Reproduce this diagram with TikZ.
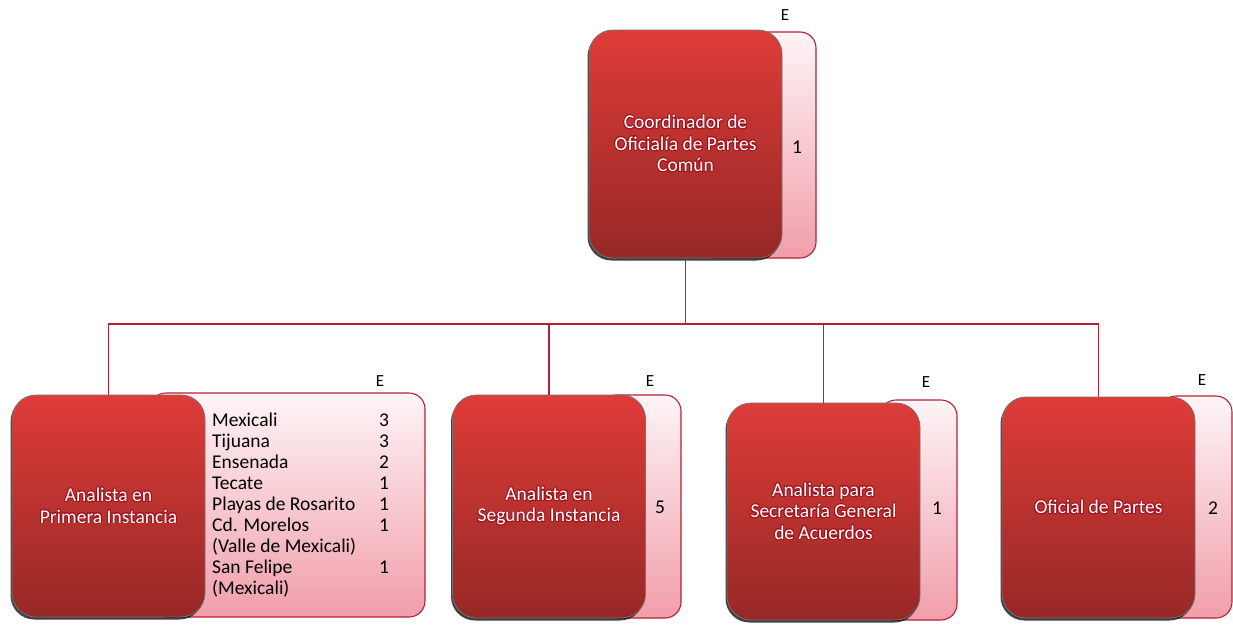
\documentclass[tikz,border=0pt]{standalone}
\usepackage{fontspec}
\setmainfont{Carlito}
\usepackage{xcolor}
\usepackage{contour}
\usetikzlibrary{shadows}

\definecolor{boxtop}{RGB}{222,60,56}
\definecolor{boxbot}{RGB}{150,40,38}
\definecolor{paneltop}{RGB}{253,244,246}
\definecolor{panelbot}{RGB}{241,158,170}
\definecolor{linkred}{RGB}{178,34,54}
\definecolor{rimred}{RGB}{160,20,30}

\contourlength{0.9pt}
\newcommand{\wl}[1]{\contour{rimred}{#1}}

\tikzset{
  post/.style={draw=black!55, line width=0.8pt, rounded corners=24pt,
    top color=boxtop, bottom color=boxbot, text=white, align=center,
    minimum width=193pt, inner sep=0pt,
    font=\fontsize{19.5}{21.5}\selectfont,
    drop shadow={shadow xshift=-1.5pt, shadow yshift=-2.5pt, fill=black, opacity=0.75}},
  panel/.style={draw=linkred, line width=1.1pt, rounded corners=16pt,
    top color=paneltop, bottom color=panelbot, inner sep=0pt},
  count/.style={font=\fontsize{19.5}{21}\selectfont, text=black},
  flag/.style={font=\fontsize{17}{18}\selectfont, text=black},
  link/.style={draw=linkred, line width=1.4pt},
}

\begin{document}
\begin{tikzpicture}[x=1pt, y=-1pt]
\useasboundingbox (0,0) rectangle (1233,624);

% coordinador
\node[panel, minimum width=116pt, minimum height=226pt] (p0) at (758,145) {};
\node[post, minimum height=228pt] (coord) at (685.5,144) {\wl{Coordinador de}\\\wl{Oficialía de Partes}\\\wl{Común}};
\node[count] (n0) at (797,147) {1};
\node[flag] (e0) at (785,15) {E};

% primera instancia
\node[panel, minimum width=275pt, minimum height=224pt] (p1) at (287.5,505) {};
\node[post, minimum height=222pt] (prim) at (108.5,506) {\wl{Analista en}\\\wl{Primera Instancia}};
\node[count, anchor=north west, inner sep=0pt] (lst) at (212,412) {%
  \begin{tabular}{@{}p{167pt}@{}r@{}}
  Mexicali & 3\\
  Tijuana & 3\\
  Ensenada & 2\\
  Tecate & 1\\
  Playas de Rosarito & 1\\
  Cd. Morelos & 1\\
  (Valle de Mexicali) & \\
  San Felipe & 1\\
  (Mexicali) & \\
  \end{tabular}};
\node[flag] (e1) at (380,381) {E};

% segunda instancia
\node[panel, minimum width=81pt, minimum height=223pt] (p2) at (640.5,506.5) {};
\node[post, minimum height=223pt] (seg) at (549,506.5) {\wl{Analista en}\\\wl{Segunda Instancia}};
\node[count] (n2) at (660,507) {5};
\node[flag] (e2) at (650,381) {E};

% secretaria general
\node[panel, minimum width=77pt, minimum height=220pt] (p3) at (918.5,510) {};
\node[post, minimum height=217pt] (sec) at (823.5,511.5) {\wl{Analista para}\\\wl{Secretaría General}\\\wl{de Acuerdos}};
\node[count] (n3) at (937,508) {1};
\node[flag] (e3) at (926,382) {E};

% oficial de partes
\node[panel, minimum width=72pt, minimum height=222pt] (p4) at (1196,507) {};
\node[post, minimum height=221pt] (ofi) at (1098.5,507.5) {\wl{Oficial de Partes}};
\node[count] (n4) at (1213,508) {2};
\node[flag] (e4) at (1202,380) {E};

% lines
\coordinate (fork) at (685.5,324);
\draw[link] (coord.south) -- (fork);
\draw[link] (fork) -| (prim.north);
\draw[link] (fork) -| (seg.north);
\draw[link] (fork) -| (sec.north);
\draw[link] (fork) -| (ofi.north);

\end{tikzpicture}
\end{document}
